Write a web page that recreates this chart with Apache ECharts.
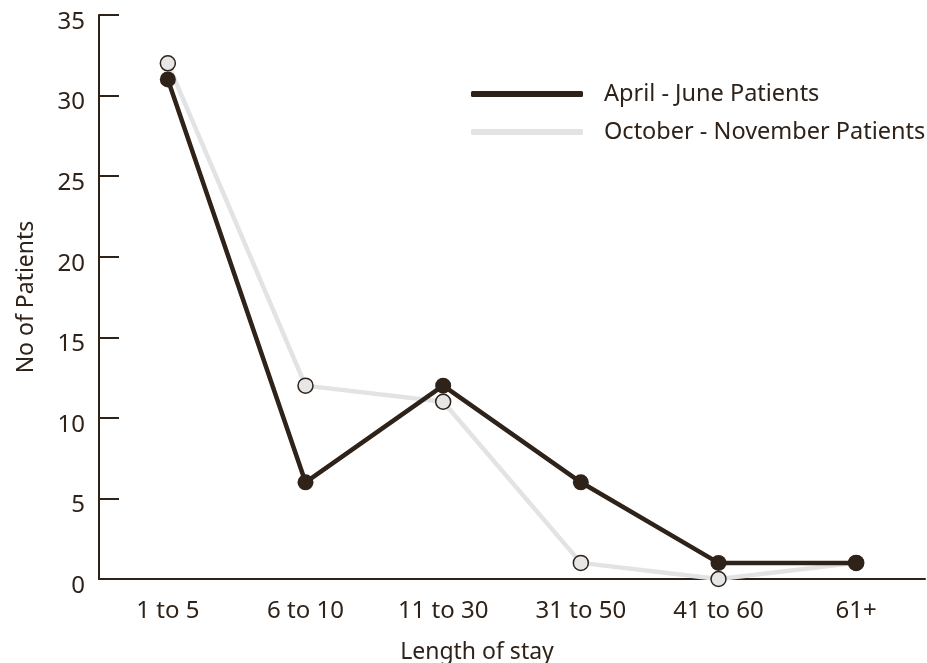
<!DOCTYPE html>
<html>
<head>
<meta charset="utf-8">
<script src="https://cdn.jsdelivr.net/npm/echarts@6/dist/echarts.min.js"></script>
<style>html,body{margin:0;padding:0;background:#fff}#c{width:927px;height:663px}</style>
</head>
<body>
<div id="c"></div>
<script>
var categories = ['1 to 5', '6 to 10', '11 to 30', '31 to 50', '41 to 60', '61+'];
var aprilJune = [31, 6, 12, 6, 1, 1];
var octNov = [32, 12, 11, 1, 0, 1];
var seriesNames = ['April - June Patients', 'October - November Patients'];

var DARK = '#2e2219';
var GREY = '#e3e3e3';
var FONT = 'Noto Sans';

var chart = echarts.init(document.getElementById('c'));
chart.setOption({
  animation: false,
  textStyle: { fontFamily: FONT, color: DARK },
  grid: { left: 99, top: 15, right: 2, bottom: 84, containLabel: false, outerBoundsMode: 'none' },
  legend: {
    left: 466, top: 76, orient: 'vertical',
    itemWidth: 112, itemHeight: 6, itemGap: 12,
    icon: 'roundRect',
    textStyle: { fontSize: 23.5, color: DARK, padding: [0, 0, 0, 16], lineHeight: 26, fontFamily: FONT },
    data: [
      { name: seriesNames[0], itemStyle: { color: DARK, borderWidth: 0 } },
      { name: seriesNames[1], itemStyle: { color: GREY, borderWidth: 0 } }
    ]
  },
  xAxis: {
    type: 'category', data: categories, boundaryGap: true,
    name: 'Length of stay', nameLocation: 'middle', nameGap: 62,
    nameTextStyle: { fontSize: 23, color: DARK, padding: [0, 70, 0, 0] },
    axisLine: { lineStyle: { color: DARK, width: 2 } },
    axisTick: { inside: true, length: 13, interval: 0, lineStyle: { color: DARK, width: 2 } },
    axisLabel: { fontSize: 24, color: DARK, margin: 20, interval: 0 },
    splitLine: { show: false }
  },
  yAxis: {
    type: 'value', min: 0, max: 35, interval: 5,
    name: 'No of Patients', nameLocation: 'middle', nameGap: 61,
    nameTextStyle: { fontSize: 23, color: DARK },
    axisLine: { show: true, lineStyle: { color: DARK, width: 2 } },
    axisTick: { show: true, inside: true, length: 20, lineStyle: { color: DARK, width: 2 } },
    axisLabel: { fontSize: 24, color: DARK, margin: 14, verticalAlign: 'top', lineHeight: 14 },
    splitLine: { show: false }
  },
  series: [
    {
      name: seriesNames[1], type: 'line', data: octNov, z: 2,
      symbol: 'circle', symbolSize: 15,
      lineStyle: { color: GREY, width: 4.5 },
      itemStyle: { color: '#e6e6e6', borderColor: DARK, borderWidth: 1.5 }
    },
    {
      name: seriesNames[0], type: 'line', data: aprilJune, z: 3,
      symbol: 'circle', symbolSize: 16,
      lineStyle: { color: DARK, width: 4.5 },
      itemStyle: { color: DARK, borderWidth: 0 }
    }
  ]
});
</script>
</body>
</html>
